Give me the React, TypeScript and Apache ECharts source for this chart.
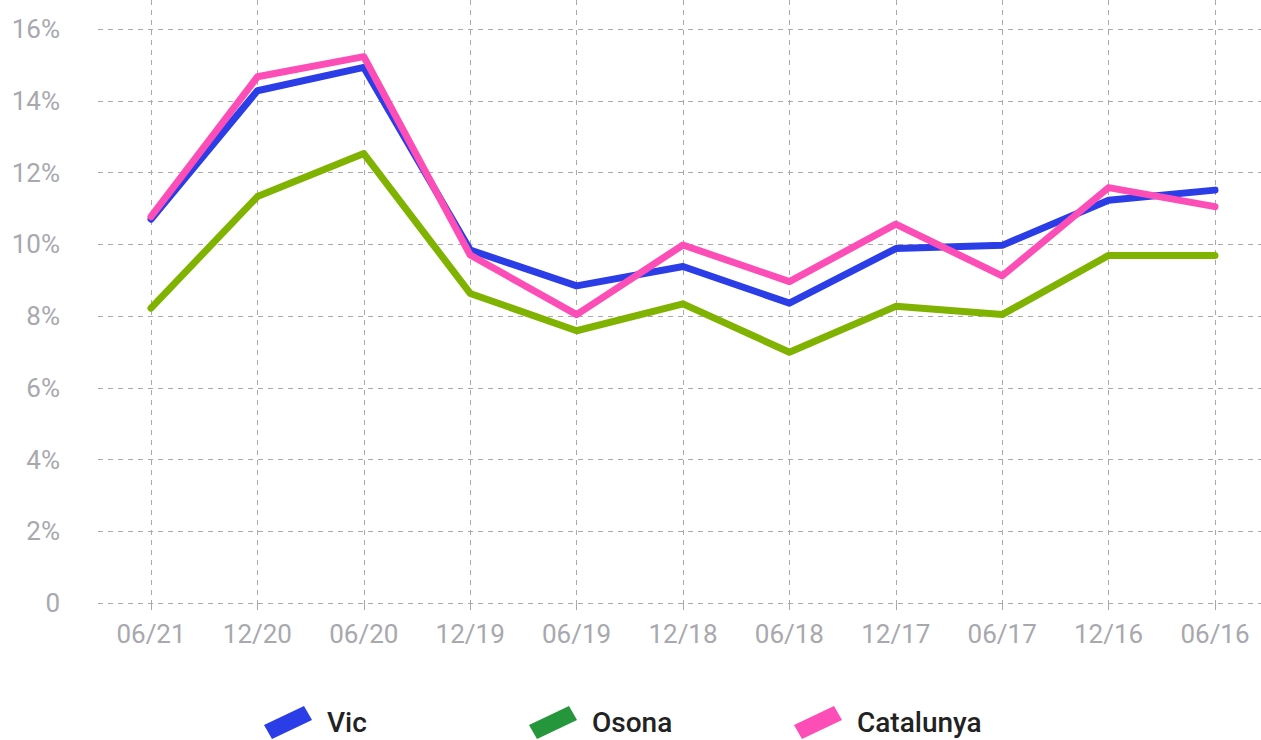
import React, { useEffect, useRef } from "react";
import * as echarts from "echarts";

const categories = ["06/21", "12/20", "06/20", "12/19", "06/19", "12/18", "06/18", "12/17", "06/17", "12/16", "06/16"];
const vicValues = [10.7, 14.28, 14.93, 9.84, 8.84, 9.38, 8.36, 9.88, 9.97, 11.23, 11.51];
const osonaValues = [8.22, 11.33, 12.53, 8.63, 7.59, 8.34, 6.99, 8.27, 8.04, 9.69, 9.69];
const catalunyaValues = [10.77, 14.67, 15.23, 9.7, 8.04, 9.98, 8.96, 10.56, 9.12, 11.58, 11.05];
const yTicks = [0, 2, 4, 6, 8, 10, 12, 14, 16];

const BLUE = "#2a3de6";
const GREEN_LINE = "#7fb300";
const GREEN_LEGEND = "#26963c";
const PINK = "#fd4db7";
const GRID_GREY = "#a9a9ad";
const LABEL_GREY = "#a8a8ae";
const ICON = "path://M0,19 L40,0 L48,14 L8,33 Z";

export default function App() {
  const ref = useRef<HTMLDivElement>(null);
  useEffect(() => {
    if (!ref.current) return;
    const chart = echarts.init(ref.current, undefined, { renderer: "svg" });
    const labelFont = { fontFamily: "Roboto", fontSize: 26, color: LABEL_GREY };
    const legendText = { fontFamily: "Roboto", fontSize: 28, fontWeight: 500, color: "#222", padding: [0, 0, 0, 10] };
    const mkLegend = (name: string, left: number, color: string) => ({
      left,
      top: 706,
      padding: 0,
      itemWidth: 48,
      itemHeight: 33,
      selectedMode: false,
      textStyle: legendText,
      data: [{ name, icon: ICON, itemStyle: { color } }],
    });
    const mkSeries = (name: string, data: number[], color: string) => ({
      name,
      type: "line",
      xAxisIndex: 0,
      yAxisIndex: 0,
      data,
      symbol: "none",
      showSymbol: false,
      itemStyle: { color },
      lineStyle: { color, width: 7, cap: "round", join: "round" },
    });
    chart.setOption({
      animation: false,
      grid: [
        { left: 151, right: 46, top: 0, bottom: 137 },
        { left: 98, right: 0, top: 29, bottom: 137 },
      ],
      xAxis: [
        {
          type: "category",
          gridIndex: 0,
          data: categories,
          boundaryGap: false,
          axisLine: { show: false },
          axisTick: { show: true, length: 7, lineStyle: { color: GRID_GREY } },
          axisLabel: { ...labelFont, margin: 18 },
          splitLine: { show: true, lineStyle: { color: GRID_GREY, type: [5, 5], width: 1 } },
        },
        { type: "value", gridIndex: 1, show: false, min: 0, max: 1 },
      ],
      yAxis: [
        { type: "value", gridIndex: 0, min: 0, max: 16.81, show: false, splitLine: { show: false } },
        {
          type: "value",
          gridIndex: 1,
          min: yTicks[0],
          max: yTicks[yTicks.length - 1],
          interval: 2,
          axisLine: { show: false },
          axisTick: { show: false },
          axisLabel: { ...labelFont, margin: 38, formatter: (v: number) => (v === 0 ? "0" : v + "%") },
          splitLine: { show: true, lineStyle: { color: GRID_GREY, type: [5, 5], width: 1 } },
        },
      ],
      legend: [mkLegend("Vic", 264, BLUE), mkLegend("Osona", 529, GREEN_LEGEND), mkLegend("Catalunya", 794, PINK)],
      series: [
        mkSeries("Osona", osonaValues, GREEN_LINE),
        mkSeries("Vic", vicValues, BLUE),
        mkSeries("Catalunya", catalunyaValues, PINK),
      ],
    });
    return () => chart.dispose();
  }, []);
  return <div ref={ref} style={{ position: "absolute", left: 0, top: 0, width: 1261, height: 740 }} />;
}
